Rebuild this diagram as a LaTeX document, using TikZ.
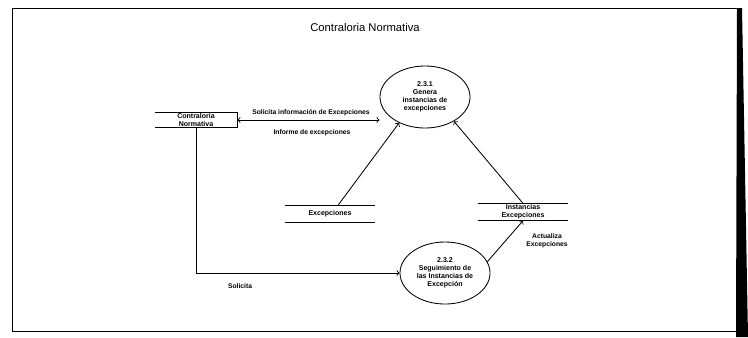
\documentclass[tikz,border=0pt]{standalone}
\usepackage{fontspec}
\setmainfont{Liberation Sans}
\usetikzlibrary{shapes.geometric}

\begin{document}
\begin{tikzpicture}[x=0.025cm, y=-0.025cm,
  proc/.style={ellipse, draw, semithick, minimum width=2.25cm, minimum height=1.55cm,
               inner sep=0pt, align=center, font=\fontsize{5}{5.8}\selectfont\bfseries},
  store/.style={minimum width=2.25cm, minimum height=0.42cm, inner sep=0pt,
                align=center, font=\fontsize{5}{5.8}\selectfont\bfseries},
  entity/.style={minimum width=2.05cm, minimum height=0.38cm, inner sep=0pt,
                 align=center, font=\fontsize{5}{5.8}\selectfont\bfseries},
  lbl/.style={font=\fontsize{4.8}{5.6}\selectfont\bfseries, align=center},
  arr/.style={->, semithick}
]
  \useasboundingbox (0,0) rectangle (748,337);

  % Marco de la hoja
  \draw[thin] (12,8) rectangle (738,331);
  \fill (737,8) -- (742,8) -- (748,337) -- (736,337) -- cycle;
  \node[font=\fontsize{8}{9}\selectfont] (titulo) at (365,27) {Contraloria Normativa};

  % Procesos, almacenes y entidad
  \node[entity] (contraloria) at (196,120) {Contraloria\\Normativa};
  \node[proc] (genera) at (425,97) {2.3.1\\Genera\\instancias de\\excepciones};
  \node[proc] (seguim) at (445,273) {2.3.2\\Seguimiento de\\las Instancias de\\Excepci\'on};
  \node[store] (excep) at (330,214) {Excepciones};
  \node[store] (instan) at (523,212) {Instancias\\Excepciones};

  \draw[semithick] (contraloria.north west) -- (contraloria.north east)
    -- (contraloria.south east) -- (contraloria.south west);
  \draw[thin] (excep.north west) -- (excep.north east);
  \draw[thin] (excep.south west) -- (excep.south east);
  \draw[thin] (instan.north west) -- (instan.north east);
  \draw[thin] (instan.south west) -- (instan.south east);

  % Flujos
  \draw[arr, <->] (contraloria.east) -- (contraloria.east -| genera.west);
  \draw[arr] (excep.north) ++(8,0) -- (genera.225);
  \draw[arr] (instan.north) -- (genera.320);
  \draw[arr] (seguim.15) -- (instan.south);
  \draw[arr] (contraloria.south) |- (seguim.west);

  % Etiquetas
  \node[lbl] (l1) at (311,113) {Solicita informaci\'on de Excepciones};
  \node[lbl] (l2) at (312,133) {Informe de excepciones};
  \node[lbl] (l3) at (547,241) {Actualiza\\Excepciones};
  \node[lbl] (l4) at (240,286) {Solicita};
\end{tikzpicture}
\end{document}
